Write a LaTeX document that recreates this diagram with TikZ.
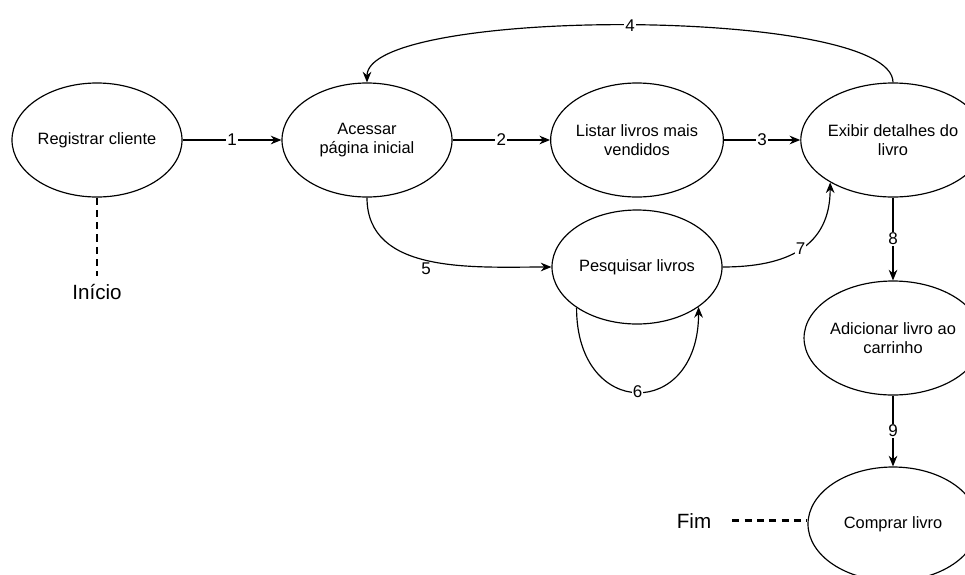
\documentclass[tikz,border=0pt]{standalone}
\usepackage{fontspec}
\setmainfont{Liberation Sans}
\usetikzlibrary{shapes.geometric,arrows.meta}

\tikzset{
  caso/.style={ellipse, draw, line width=1pt, minimum width=5.1cm, minimum height=3.42cm,
    inner sep=0pt, align=center, font=\fontsize{14}{16.5}\selectfont},
  fluxo/.style={-{Stealth[length=3.2mm,width=2.6mm]}, line width=1pt},
  num/.style={fill=white, inner sep=1pt, font=\fontsize{14.5}{16}\selectfont},
  marco/.style={line width=2.2pt, dash pattern=on 6pt off 4.5pt},
  rotulo/.style={font=\fontsize{17.6}{20}\selectfont},
}

\begin{document}
\begin{tikzpicture}[node distance=8.1cm]
        \useasboundingbox (0,0) rectangle (28.95,-17.22);

        % Registrar
        \node[caso] (registrar) at (2.91,-4.2) {Registrar cliente};

        % Acessar
        \node[caso, right of=registrar] (acessar) {Acessar\\p\'agina inicial};

        % Listar
        \node[caso, right of=acessar] (listar) {Listar livros mais\\vendidos};

        % Exibir
        \node[caso, node distance=7.68cm, right of=listar] (exibir) {Exibir detalhes do\\livro};

        % Pesquisar
        \node[caso, node distance=3.81cm, below of=listar] (pesquisar) {Pesquisar livros};

        % Adicionar
        \node[caso, node distance=5.94cm, below of=exibir] (adicionar) {Adicionar livro ao\\carrinho};

        % Comprar
        \node[caso, node distance=5.58cm, below of=adicionar] (comprar) {Comprar livro};

        % Inicio / Fim
        \node[rotulo, inner sep=0.24cm, node distance=4.55cm, below of=registrar] (inicio) {Início};
        \node[rotulo, inner xsep=0.63cm, node distance=5.97cm, left of=comprar, yshift=0.1cm] (fim) {Fim};

        % Connections
        \draw[fluxo] (registrar) -- node[num] {1} (acessar);
        \draw[fluxo] (acessar) -- node[num] {2} (listar);
        \draw[fluxo] (listar) -- node[num] {3} (exibir);
        \draw[fluxo] (exibir.north) to[out=90, in=90, looseness=0.37] node[num] {4} (acessar.north);
        \draw[fluxo] (acessar.south) to[out=-90, in=180] node[pos=0.48, below=1pt, num, fill=none] {5} (pesquisar.west);
        \draw[fluxo] (pesquisar.214) to[out=-90, in=-90, looseness=2.36] node[num] {6} (pesquisar.327);
        \draw[fluxo] (pesquisar.east) to[out=0, in=-90, looseness=1.2] node[num] {7} (exibir.214);
        \draw[fluxo] (exibir) -- node[num] {8} (adicionar);
        \draw[fluxo] (adicionar) -- node[num] {9} (comprar);

        % Dashed
        \draw[marco] (registrar.south) -- (inicio.north);
        \draw[marco] (fim.east) -- (fim.east -| comprar.west);
    \end{tikzpicture}
\end{document}
